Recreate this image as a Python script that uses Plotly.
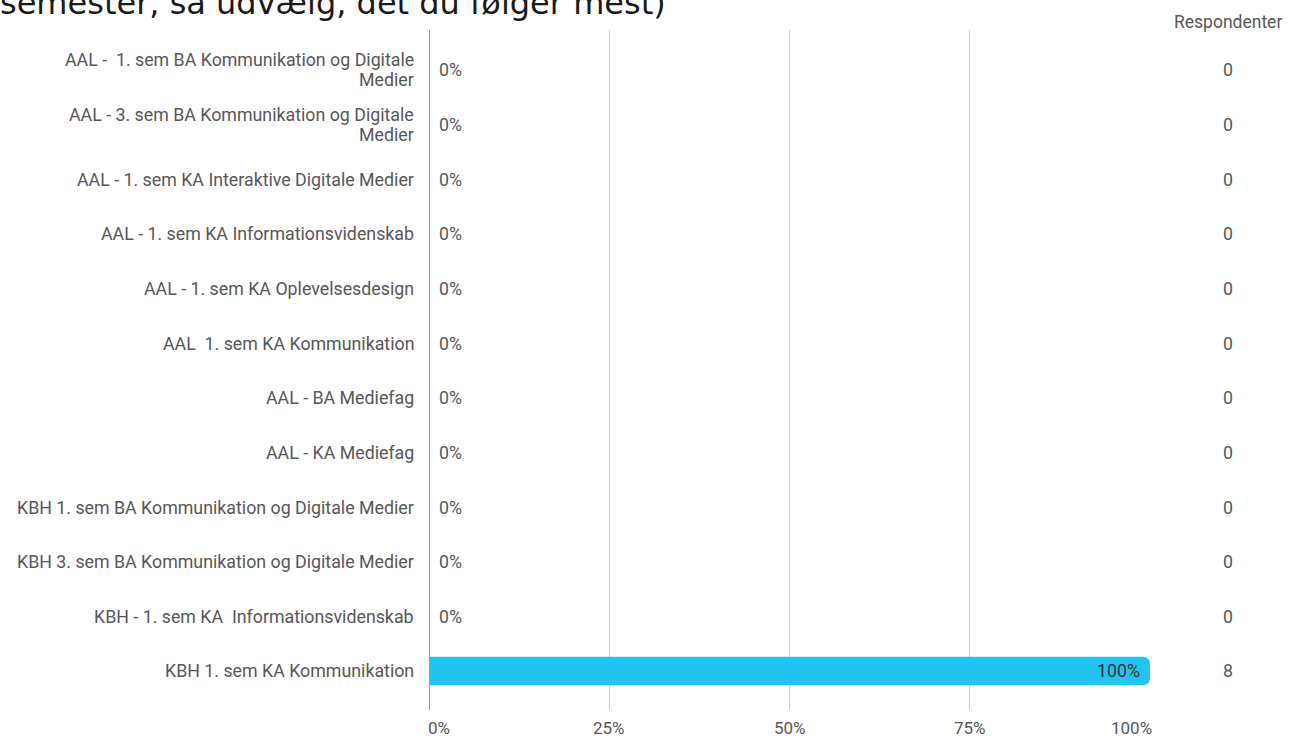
import plotly.graph_objects as go

categories = [
    "AAL -  1. sem BA Kommunikation og Digitale<br>Medier",
    "AAL - 3. sem BA Kommunikation og Digitale<br>Medier",
    "AAL - 1. sem KA Interaktive Digitale Medier",
    "AAL - 1. sem KA Informationsvidenskab",
    "AAL - 1. sem KA Oplevelsesdesign",
    "AAL  1. sem KA Kommunikation",
    "AAL - BA Mediefag",
    "AAL - KA Mediefag",
    "KBH 1. sem BA Kommunikation og Digitale Medier",
    "KBH 3. sem BA Kommunikation og Digitale Medier",
    "KBH - 1. sem KA  Informationsvidenskab",
    "KBH 1. sem KA Kommunikation",
]
percent = [0, 0, 0, 0, 0, 0, 0, 0, 0, 0, 0, 100]
respondents = [0, 0, 0, 0, 0, 0, 0, 0, 0, 0, 0, 8]
tick_values = [0, 25, 50, 75, 100]
tick_labels = ["0%", "25%", "50%", "75%", "100%"]
title_text = "semester, så udvælg, det du følger mest)"
count_header = "Respondenter"

n = len(categories)
idx = list(range(n))

FONT = "Roboto"
TXT = "#585858"
FS = 17.8

W, H = 1296, 738
L, R, T, B = 429, 146, 30, 28
pw = W - L - R
ph = H - T - B


def px_x(px):
    return (px - L) / pw


def px_y(py):
    return (H - B - py) / ph


fig = go.Figure()
fig.add_trace(go.Bar(
    y=idx, x=percent, orientation="h",
    marker=dict(color="#21C3F1", line=dict(width=0), cornerradius=7),
    width=0.52,
    hoverinfo="skip",
))

annotations = []
# category labels (multi-line labels split so line spacing matches)
LINE_GAP = 20
for i, c in enumerate(categories):
    lines = c.split("<br>")
    k = len(lines)
    for j, line in enumerate(lines):
        annotations.append(dict(x=0, xref="paper", xanchor="right", xshift=-13,
                                y=i, yref="y", yanchor="middle",
                                yshift=((k - 1) / 2 - j) * LINE_GAP,
                                text=line, showarrow=False,
                                font=dict(family=FONT, size=FS, color=TXT)))
# value labels
for i, p in enumerate(percent):
    inside = p > 50
    annotations.append(dict(x=p, xref="x", xanchor="right" if inside else "left",
                            xshift=-8 if inside else 8,
                            y=i, yref="y", yanchor="middle", text=f"{p}%", showarrow=False,
                            font=dict(family=FONT, size=FS, color="#333333" if inside else TXT)))
# respondent counts
for i, r in enumerate(respondents):
    annotations.append(dict(x=px_x(1228), xref="paper", xanchor="center",
                            y=i, yref="y", yanchor="middle", text=str(r), showarrow=False,
                            font=dict(family=FONT, size=FS, color=TXT)))
annotations.append(dict(x=px_x(1228), xref="paper", xanchor="center", y=px_y(22), yref="paper",
                        yanchor="middle", text=count_header, showarrow=False,
                        font=dict(family=FONT, size=17.5, color=TXT)))
# x tick labels
anchors = ["left", "center", "center", "center", "right"]
shifts = [-3, 0, 0, 0, 4]
for v, lab, a, s in zip(tick_values, tick_labels, anchors, shifts):
    annotations.append(dict(x=v, xref="x", xanchor=a, xshift=s, y=0, yref="paper", yanchor="top",
                            yshift=-6, text=lab, showarrow=False,
                            font=dict(family=FONT, size=17, color=TXT)))
# cut-off title
annotations.append(dict(x=px_x(-2), xref="paper", xanchor="left", y=1, yref="paper",
                        yanchor="bottom", yshift=6, text=title_text, showarrow=False,
                        font=dict(family="DejaVu Sans", size=32, color="#1a1a1a")))

fig.update_layout(
    width=W, height=H,
    margin=dict(l=L, r=R, t=T, b=B),
    paper_bgcolor="white", plot_bgcolor="white",
    showlegend=False,
    xaxis=dict(range=[0, 100], tickvals=tick_values, showticklabels=False,
               showgrid=True, gridcolor="#cccccc", gridwidth=1, zeroline=False,
               showline=False, fixedrange=True),
    yaxis=dict(range=[11.714, -0.732], showticklabels=False, showgrid=False,
               zeroline=False, showline=False, fixedrange=True),
    annotations=annotations,
    shapes=[dict(type="line", xref="x", yref="paper", x0=0, x1=0, y0=0, y1=1,
                 line=dict(color="#9a9a9a", width=2), layer="above")],
)

fig.write_html("out.html", config={"displayModeBar": False},
               post_script="document.body.style.margin='0';")
